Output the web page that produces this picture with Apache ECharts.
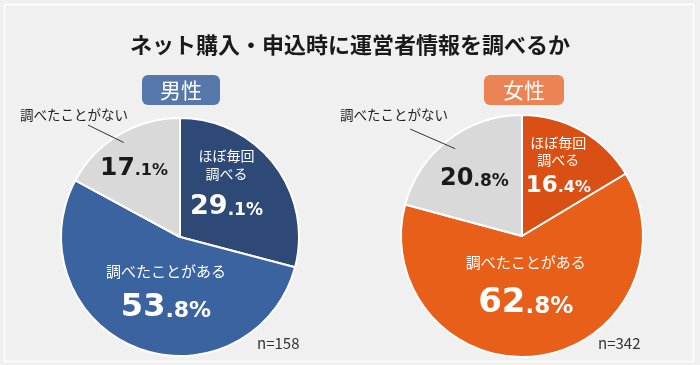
<!DOCTYPE html>
<html>
<head>
<meta charset="utf-8">
<script src="https://cdn.jsdelivr.net/npm/echarts@6/dist/echarts.min.js"></script>
<style>
  html, body { margin: 0; padding: 0; background: #f0f0f0; }
  #main { width: 700px; height: 365px; }
</style>
</head>
<body>
<div id="main"></div>
<script>
const chartTitle = 'ネット購入・申込時に運営者情報を調べるか';
const groups = ['男性', '女性'];
const sampleSizes = [158, 342];
const categories = ['ほぼ毎回\n調べる', '調べたことがある', '調べたことがない'];
const maleValues = [29.1, 53.8, 17.1];
const femaleValues = [16.4, 62.8, 20.8];

const FONT = '"Noto Sans CJK JP", "Noto Sans", sans-serif';
const NUM_FONT = '"DejaVu Sans", "Noto Sans", sans-serif';

// per pie look: geometry, colours, label sizes
const pies = [
    {
        values: maleValues,
        center: [180, 237], r: 119, guideR: 110,
        colors: ['#2e4976', '#3a63a0', '#d9d9d9'],
        badge: '#5677aa', badgeLeft: 142, badgePad: [4, 18],
        nLeft: 257,
        // [nameSize, nameLH, bigSize, smallSize, numLH]
        sizes: [[14, 18, 27, 17, 48], [15, 20, 32, 22, 54], [0, 0, 25, 16, 30]],
        offsets: [[-3, -10], [9, 3], [-14, -15]],
        outName: [74, 115], lineEnd: [88, 125]
    },
    {
        values: femaleValues,
        center: [522, 236], r: 121, guideR: 110,
        colors: ['#d94f14', '#e85f1a', '#d9d9d9'],
        badge: '#ec8354', badgeLeft: 484, badgePad: [4, 19],
        nLeft: 598,
        sizes: [[14, 17, 23, 16, 35], [15, 20, 34, 23, 62], [0, 0, 24, 17, 30]],
        offsets: [[5, -12], [-5, -6], [-9, -7]],
        outName: [394, 115], lineEnd: [410, 129]
    }
];

function midAngle(values, i) {
    const total = values.reduce((a, b) => a + b, 0);
    let before = 0;
    for (let k = 0; k < i; k++) before += values[k];
    return (90 - (before + values[i] / 2) / total * 360) * Math.PI / 180;
}

function insideLabel(p, i) {
    const [ns, nlh, bs, ss, numLH] = p.sizes[i];
    const parts = p.values[i].toFixed(1).split('.');
    const dark = i === 2;
    const numColor = dark ? '#1a1a1a' : '#fff';
    let text = '';
    if (!dark) {
        text = categories[i].split('\n').map(s => '{n|' + s + '}').join('\n') + '\n';
    }
    text += '{b|' + parts[0] + '}{s|.' + parts[1] + '%}';
    return {
        formatter: text,
        rich: {
            n: {fontSize: ns, lineHeight: nlh, color: '#fff', fontFamily: FONT},
            b: {fontSize: bs, lineHeight: numLH, fontWeight: 'bold', color: numColor, fontFamily: NUM_FONT},
            s: {fontSize: ss, fontWeight: 'bold', color: numColor, fontFamily: NUM_FONT,
                padding: [Math.round(0.72 * (bs - ss)), 0, 0, 0]}
        }
    };
}

const series = [];
pies.forEach(function (p) {
    series.push({
        type: 'pie',
        center: p.center,
        radius: p.r,
        startAngle: 90,
        clockwise: true,
        silent: true,
        animation: false,
        avoidLabelOverlap: false,
        itemStyle: {borderColor: '#fff', borderWidth: 2},
        label: {show: true, position: 'inside', fontFamily: FONT},
        labelLine: {show: false},
        labelLayout: function (params) {
            const o = p.offsets[params.dataIndex];
            return {dx: o[0], dy: o[1]};
        },
        data: p.values.map((v, i) => ({
            value: v,
            name: categories[i],
            itemStyle: {color: p.colors[i]},
            label: insideLabel(p, i)
        }))
    });

    // transparent copy that only carries the outside name + leader line
    series.push({
        type: 'pie',
        center: p.center,
        radius: p.guideR,
        startAngle: 90,
        clockwise: true,
        silent: true,
        animation: false,
        avoidLabelOverlap: false,
        z: 3,
        itemStyle: {color: 'rgba(0,0,0,0)', borderWidth: 0},
        label: {show: false},
        labelLine: {show: false},
        labelLayout: function (params) {
            if (params.dataIndex !== 2) return {};
            const a = midAngle(p.values, 2);
            const start = [p.center[0] + p.guideR * Math.cos(a), p.center[1] - p.guideR * Math.sin(a)];
            return {
                x: p.outName[0], y: p.outName[1],
                align: 'center', verticalAlign: 'middle',
                labelLinePoints: [start, p.lineEnd, p.lineEnd]
            };
        },
        data: p.values.map((v, i) => ({
            value: v,
            name: categories[i],
            label: {show: i === 2, position: 'outside', formatter: '{b}',
                fontSize: 13.5, color: '#222', fontFamily: FONT},
            labelLine: {show: i === 2, lineStyle: {color: '#333', width: 1}}
        }))
    });
});

const titles = [{
    text: chartTitle,
    left: 'center',
    top: 29,
    textStyle: {fontSize: 22, fontWeight: 'bold', color: '#1a1a1a', fontFamily: FONT}
}];
pies.forEach(function (p, k) {
    titles.push({
        text: groups[k],
        left: p.badgeLeft,
        top: 75,
        padding: p.badgePad,
        backgroundColor: p.badge,
        borderRadius: 6,
        textStyle: {fontSize: 21, lineHeight: 22, color: '#fff', fontWeight: 'normal', fontFamily: FONT}
    });
    titles.push({
        text: 'n=' + sampleSizes[k],
        left: p.nLeft,
        top: 336,
        padding: 0,
        textStyle: {fontSize: 15, color: '#333', fontWeight: 'normal', fontFamily: FONT}
    });
});

const chart = echarts.init(document.getElementById('main'));
chart.setOption({
    backgroundColor: '#f0f0f0',
    animation: false,
    title: titles,
    graphic: [{
        type: 'rect',
        shape: {x: 4.5, y: 4.5, width: 689, height: 357},
        style: {fill: 'none', stroke: '#ffffff', lineWidth: 1.5},
        silent: true
    }],
    series: series
});
</script>
</body>
</html>
